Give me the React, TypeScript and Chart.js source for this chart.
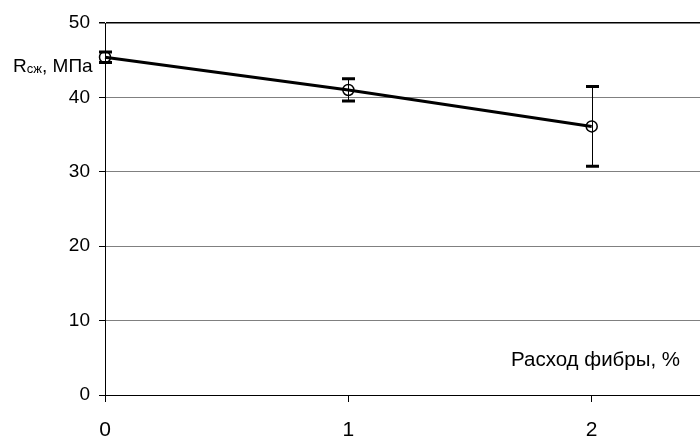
import React, { useEffect, useRef } from "react";
import { Chart, registerables } from "chart.js";

Chart.register(...registerables);

const fiberContent = [0, 1, 2];
const strength = [45.4, 41.0, 36.1];
const strengthError = [0.7, 1.5, 5.35];
const xTickValues = [0, 1, 2];
const yTickValues = [0, 10, 20, 30, 40, 50];
const yTitleMain = "R";
const yTitleSub = "сж";
const yTitleRest = ", МПа";
const xTitle = "Расход фибры, %";

const FONT = '"Liberation Sans", Arial, sans-serif';

const overlayPlugin = {
  id: "overlay",
  afterDatasetsDraw(chart: any) {
    const ctx = chart.ctx;
    const xs = chart.scales.x;
    const ys = chart.scales.y;
    ctx.save();
    ctx.strokeStyle = "#000";
    ctx.fillStyle = "#000";
    fiberContent.forEach((xv, i) => {
      const px = Math.round(xs.getPixelForValue(xv)) + 0.5;
      const top = ys.getPixelForValue(strength[i] + strengthError[i]);
      const bot = ys.getPixelForValue(strength[i] - strengthError[i]);
      ctx.lineWidth = 1;
      ctx.beginPath();
      ctx.moveTo(px, top);
      ctx.lineTo(px, bot);
      ctx.stroke();
      ctx.lineWidth = 3;
      ctx.beginPath();
      ctx.moveTo(px - 6.5, top);
      ctx.lineTo(px + 6.5, top);
      ctx.moveTo(px - 6.5, bot);
      ctx.lineTo(px + 6.5, bot);
      ctx.stroke();
    });
    ctx.restore();
  },
  afterDraw(chart: any) {
    const ctx = chart.ctx;
    ctx.save();
    ctx.fillStyle = "#000";
    ctx.textBaseline = "alphabetic";
    ctx.textAlign = "left";
    let x = 13;
    const base = 71.5;
    ctx.font = `19px ${FONT}`;
    ctx.fillText(yTitleMain, x, base);
    x += ctx.measureText(yTitleMain).width;
    ctx.font = `13px ${FONT}`;
    ctx.fillText(yTitleSub, x, base + 1);
    x += ctx.measureText(yTitleSub).width;
    ctx.font = `19px ${FONT}`;
    ctx.fillText(yTitleRest, x, base);

    ctx.font = `20.5px ${FONT}`;
    ctx.fillText(xTitle, 511, 366);
    ctx.restore();
  },
};

export default function App() {
  const ref = useRef<HTMLCanvasElement | null>(null);
  useEffect(() => {
    document.body.style.margin = "0";
    const canvas = ref.current!;
    const chart = new Chart(canvas, {
      type: "line",
      data: {
        datasets: [
          {
            data: fiberContent.map((x, i) => ({ x, y: strength[i] })),
            borderColor: "#000",
            borderWidth: 3,
            pointRadius: 5.5,
            pointBorderWidth: 1.5,
            pointBorderColor: "#000",
            pointBackgroundColor: "rgba(0,0,0,0)",
            pointStyle: "circle",
            tension: 0,
            fill: false,
            clip: false,
          },
        ],
      },
      options: {
        animation: false,
        responsive: false,
        events: [],
        layout: { autoPadding: false, padding: { top: 23, right: 0, left: 0, bottom: 0 } },
        plugins: {
          legend: { display: false },
          tooltip: { enabled: false },
          title: { display: false },
        },
        scales: {
          x: {
            type: "linear",
            min: 0,
            max: 2.445,
            afterBuildTicks: (scale: any) => {
              scale.ticks = xTickValues.map((v) => ({ value: v }));
            },
            afterFit: (scale: any) => {
              scale.height = 43;
            },
            ticks: {
              color: "#000",
              font: { family: FONT, size: 21 },
              padding: 16,
              maxRotation: 0,
              autoSkip: false,
            },
            grid: {
              drawOnChartArea: false,
              drawTicks: true,
              tickLength: 7,
              tickColor: "#000",
              tickWidth: 1,
            },
            border: { display: true, color: "#000", width: 1 },
          },
          y: {
            type: "linear",
            min: 0,
            max: 50,
            afterBuildTicks: (scale: any) => {
              scale.ticks = yTickValues.map((v) => ({ value: v }));
            },
            afterFit: (scale: any) => {
              scale.width = 105;
            },
            ticks: {
              color: "#000",
              font: { family: FONT, size: 19 },
              padding: 9,
            },
            grid: {
              color: (c: any) => (c.tick && c.tick.value === 50 ? "#000" : "#808080"),
              lineWidth: (c: any) => (c.tick && c.tick.value === 50 ? 1.5 : 1),
              tickColor: "#000",
              tickLength: 6,
            },
            border: { display: true, color: "#000", width: 1 },
          },
        },
      },
      plugins: [overlayPlugin],
    });
    return () => chart.destroy();
  }, []);
  return (
    <canvas
      ref={ref}
      width={700}
      height={438}
      style={{ display: "block", width: "700px", height: "438px" }}
    />
  );
}
